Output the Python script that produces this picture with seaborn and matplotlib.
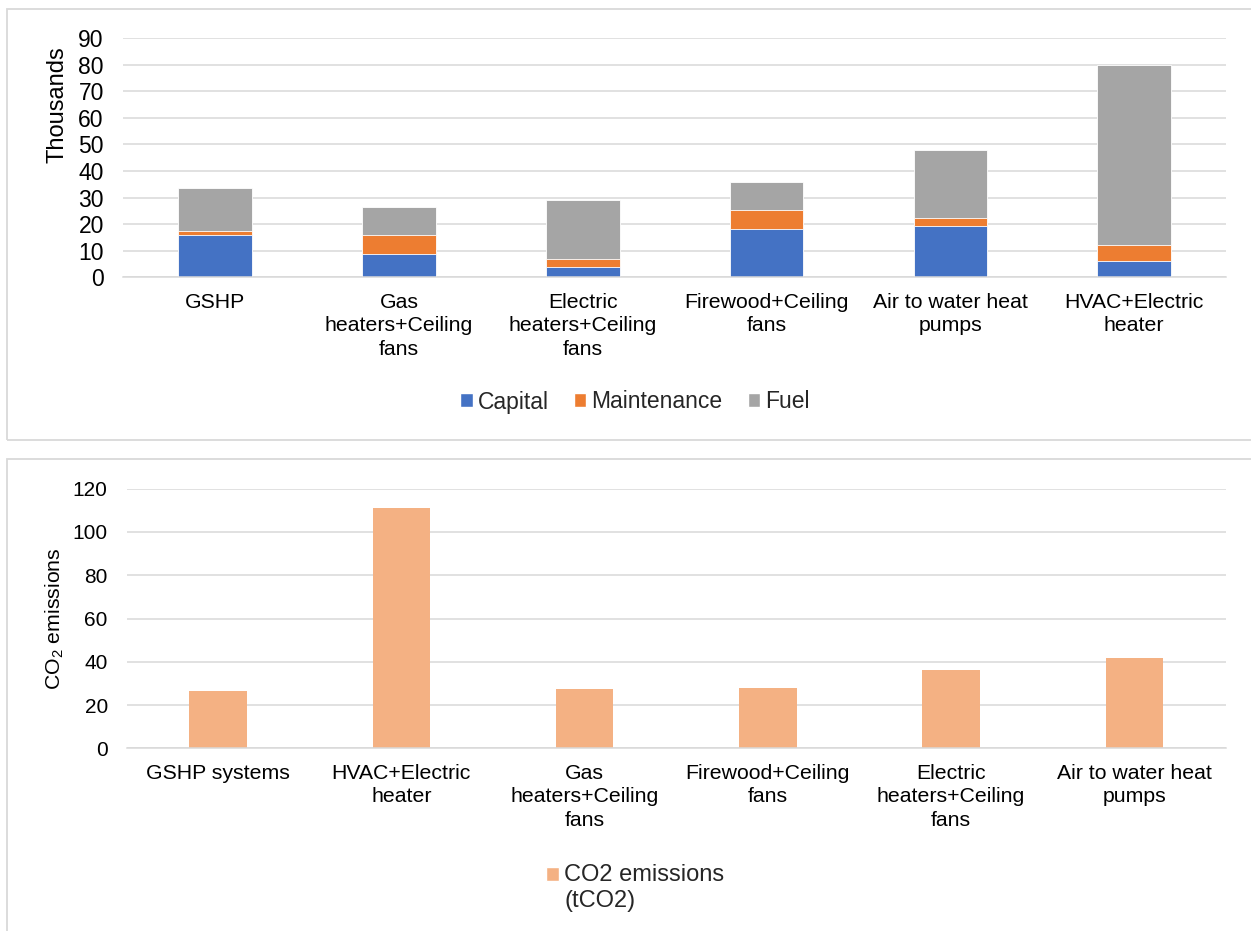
import numpy as np
import pandas as pd
import matplotlib
matplotlib.use("Agg")
import matplotlib.pyplot as plt
from matplotlib.patches import Rectangle, Patch
from matplotlib.legend_handler import HandlerPatch
import seaborn as sns

# ---- Lifetime cost breakdown (thousands) ----
cost_systems = ["GSHP", "Gas\nheaters+Ceiling\nfans", "Electric\nheaters+Ceiling\nfans",
                "Firewood+Ceiling\nfans", "Air to water heat\npumps", "HVAC+Electric\nheater"]
capital = [16.0, 8.6, 3.9, 18.0, 19.3, 6.2]
maintenance = [1.4, 7.4, 3.1, 7.3, 2.9, 5.8]
fuel = [16.1, 10.4, 22.1, 10.5, 25.7, 68.0]
cost_ticks = [0, 10, 20, 30, 40, 50, 60, 70, 80, 90]

# ---- CO2 emissions (tCO2) ----
co2_systems = ["GSHP systems", "HVAC+Electric\nheater", "Gas\nheaters+Ceiling\nfans",
               "Firewood+Ceiling\nfans", "Electric\nheaters+Ceiling\nfans", "Air to water heat\npumps"]
co2 = [26.3, 111.2, 27.4, 28.0, 36.1, 41.6]
co2_ticks = [0, 20, 40, 60, 80, 100, 120]

C_CAP, C_MAINT, C_FUEL, C_CO2 = "#4472C4", "#ED7D31", "#A5A5A5", "#F4B183"
GRID = "#D9D9D9"

sns.set_theme(style="white")
plt.rcParams["font.family"] = ["Liberation Sans", "DejaVu Sans"]
plt.rcParams["mathtext.fontset"] = "custom"
plt.rcParams["mathtext.rm"] = "Liberation Sans"

W, H = 1251, 931
fig = plt.figure(figsize=(W / 100, H / 100), dpi=100)


def fx(px):
    return px / W


def fy(py):
    return 1 - py / H


# panel frames
fig.patches.append(Rectangle((fx(6.7), fy(440)), 1.1, fy(9) - fy(440), transform=fig.transFigure,
                             fill=False, edgecolor=GRID, lw=1.3, zorder=0))
fig.patches.append(Rectangle((fx(7), -0.05), 1.1, fy(459.3) + 0.05, transform=fig.transFigure,
                             fill=False, edgecolor=GRID, lw=1.3, zorder=0))


def style_axes(ax, ticks, tick_fs, ypad):
    ax.set_axisbelow(True)
    ax.yaxis.grid(True, color=GRID, lw=1.1)
    ax.xaxis.grid(False)
    for s in ["top", "right", "left"]:
        ax.spines[s].set_visible(False)
    ax.spines["bottom"].set_color(GRID)
    ax.spines["bottom"].set_linewidth(1.1)
    ax.set_yticks(ticks)
    ax.set_ylim(ticks[0], ticks[-1])
    ax.tick_params(axis="y", length=0, labelsize=tick_fs, pad=ypad, colors="black")
    ax.tick_params(axis="x", length=0, labelsize=15.3, pad=11, colors="black")
    ax.set_xlabel("")
    for lab in ax.get_xticklabels():
        lab.set_multialignment("center")
        lab.set_linespacing(1.32)


# ---- top: stacked cost bars ----
ax1_left, ax1_right = 123.3, 1226
ax1 = fig.add_axes([fx(ax1_left), fy(277.3), fx(ax1_right) - fx(ax1_left), fy(38) - fy(277.3)])
cost = pd.DataFrame({"system": cost_systems, "capital": capital,
                     "maintenance": maintenance, "fuel": fuel})
cost["cap_maint"] = cost["capital"] + cost["maintenance"]
cost["total"] = cost["cap_maint"] + cost["fuel"]
for col, c in [("total", C_FUEL), ("cap_maint", C_MAINT), ("capital", C_CAP)]:
    sns.barplot(data=cost, x="system", y=col, order=cost_systems, color=c, width=0.40,
                saturation=1, edgecolor="white", linewidth=0.6, ax=ax1)
style_axes(ax1, cost_ticks, 16.5, 14)
ax1.set_xlim(-0.5, len(cost_systems) - 0.5)
ax1.set_ylabel("Thousands", fontsize=17, color="black")
ax1.yaxis.set_label_coords((68 - ax1_left) / (ax1_right - ax1_left), 0.72)

handles1 = [Patch(facecolor=C_CAP, label="Capital"),
            Patch(facecolor=C_MAINT, label="Maintenance"),
            Patch(facecolor=C_FUEL, label="Fuel")]
fig.legend(handles=handles1, loc="center", bbox_to_anchor=(fx(635), fy(402)), ncol=3,
           frameon=False, fontsize=16.5, handlelength=0.55, handleheight=0.55,
           handletextpad=0.22, columnspacing=1.1, borderpad=0)

# ---- bottom: CO2 bars ----
ax2_left, ax2_right = 126.5, 1226
ax2 = fig.add_axes([fx(ax2_left), fy(748.3), fx(ax2_right) - fx(ax2_left), fy(488.7) - fy(748.3)])
emis = pd.DataFrame({"system": co2_systems, "co2": co2})
sns.barplot(data=emis, x="system", y="co2", order=co2_systems, color=C_CO2, width=0.315,
            saturation=1, linewidth=0, ax=ax2)
style_axes(ax2, co2_ticks, 15, 13.5)
ax2.set_xlim(-0.5, len(co2_systems) - 0.5)
ax2.set_ylabel(r"CO$_\mathregular{2}$ emissions", fontsize=15.3, color="black")
ax2.yaxis.set_label_coords((66 - ax2_left) / (ax2_right - ax2_left), 0.5)


def first_line_square(legend, orig_handle, xdescent, ydescent, width, height, fontsize):
    # keep the swatch level with the first text line
    return Rectangle((-xdescent, -ydescent + 0.6 * fontsize), width, height)


co2_handle = Patch(facecolor=C_CO2, label="CO2 emissions\n(tCO2)")
fig.legend(handles=[co2_handle], loc="center", bbox_to_anchor=(fx(635), fy(888)),
           frameon=False, fontsize=17, handlelength=0.55, handleheight=0.55,
           handletextpad=0.22, borderpad=0,
           handler_map={Patch: HandlerPatch(patch_func=first_line_square)})

fig.savefig("out.png", dpi=100)
